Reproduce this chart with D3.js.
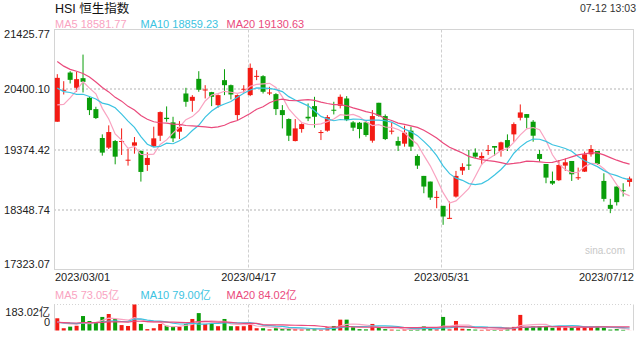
<!DOCTYPE html>
<html><head><meta charset="utf-8">
<script src="https://cdn.jsdelivr.net/npm/d3@7"></script>
<style>body{margin:0;background:#fff;} svg{display:block;font-family:"Liberation Sans",Arial,"Noto Sans CJK SC",sans-serif;}</style>
</head><body><svg id="c" width="640" height="360"></svg>
<script>
const dates = ["2023/03/01","2023/03/02","2023/03/03","2023/03/06","2023/03/07","2023/03/08","2023/03/09","2023/03/10","2023/03/13","2023/03/14","2023/03/15","2023/03/16","2023/03/17","2023/03/20","2023/03/21","2023/03/22","2023/03/23","2023/03/24","2023/03/27","2023/03/28","2023/03/29","2023/03/30","2023/03/31",
"2023/04/03","2023/04/04","2023/04/06","2023/04/11","2023/04/12","2023/04/13","2023/04/14","2023/04/17","2023/04/18","2023/04/19","2023/04/20","2023/04/21","2023/04/24","2023/04/25","2023/04/26","2023/04/27","2023/04/28",
"2023/05/02","2023/05/03","2023/05/04","2023/05/05","2023/05/08","2023/05/09","2023/05/10","2023/05/11","2023/05/12","2023/05/15","2023/05/16","2023/05/17","2023/05/18","2023/05/19","2023/05/22","2023/05/23","2023/05/24","2023/05/25","2023/05/29","2023/05/30","2023/05/31",
"2023/06/01","2023/06/02","2023/06/05","2023/06/06","2023/06/07","2023/06/08","2023/06/09","2023/06/12","2023/06/13","2023/06/14","2023/06/15","2023/06/16","2023/06/19","2023/06/20","2023/06/21","2023/06/23","2023/06/26","2023/06/27","2023/06/28","2023/06/29","2023/06/30",
"2023/07/03","2023/07/04","2023/07/05","2023/07/06","2023/07/07","2023/07/10","2023/07/11","2023/07/12"];
const opens  = [19849,20383,20690,20429,20594,20258,20065,19571,19406,19519,19513,19190,19440,19349,19110,19428,19610,19917,19838,19679,20332,20207,20582,
20383,20355,20133,20560,20474,19963,20395,20304,20622,20628,20338,20321,20048,19895,19519,19724,19934,
20116,19662,19696,20054,20122,20247,19838,19832,19838,19525,20173,19946,19679,19519,19474,19696,19264,18923,18826,18553,18411,
18195,18570,19014,19116,19321,19224,19355,19434,19349,19536,19633,19917,19980,19849,19298,19127,18837,18849,19099,19178,18888,
18996,19292,19349,18837,18428,18741,18678,18820];
const highs  = [20662,20542,20713,20702,20997,20275,20105,19633,19787,19537,19735,19383,19588,19360,19326,19764,20025,20111,19934,19860,20429,20304,20713,
20474,20360,20315,20747,20485,20315,20474,20844,20730,20645,20446,20338,20133,19906,19895,19820,20162,
20275,19707,19963,20190,20315,20287,19860,19845,19860,20048,20173,19974,19838,19593,19781,19764,19292,18923,18826,18667,18411,
18485,19008,19139,19366,19394,19326,19451,19434,19508,19633,19838,20145,19980,19877,19366,19127,18997,19195,19224,19178,19065,
19338,19451,19349,18968,18530,18741,18798,18911];
const lows   = [19849,20315,20503,20361,20349,19963,19895,19269,19383,19121,19281,19099,19303,18826,19008,19417,19519,19849,19502,19554,20105,20020,20361,
20247,20116,20088,20304,20230,19877,20349,20287,20560,20332,20304,19963,19735,19519,19513,19662,19860,
19747,19536,19679,19974,20077,19860,19690,19565,19593,19491,19934,19536,19633,19349,19423,19349,19042,18627,18513,18371,18087,
18190,18553,18940,19025,19224,19110,19281,19264,19252,19349,19508,19872,19735,19508,19167,18798,18769,18837,19008,18837,18854,
18990,19252,19110,18485,18286,18417,18570,18741];
const closes = [20599,20395,20565,20577,20531,20048,19912,19321,19673,19252,19520,19200,19497,18991,19230,19565,20014,19895,19565,19758,20190,20275,20395,
20400,20275,20304,20474,20315,20304,20412,20770,20633,20361,20349,20065,19963,19610,19735,19809,19906,
19934,19673,19929,20037,20275,19877,19747,19724,19622,19946,19951,19553,19696,19440,19662,19423,19099,18741,18553,18564,18229,
18206,18923,19076,19105,19252,19264,19366,19406,19497,19406,19809,20008,19917,19610,19213,18894,18792,19110,19156,18951,18900,
19292,19383,19127,18530,18360,18474,18667,18878];
// closes of the 19 sessions before the first date (needed for the moving averages)
const priorCloses = [21958,21660,21222,21298,21283,21624,21190,21164,21113,20812,20987,20719,20887,20529,20423,20351,20010,19943,19786];
// turnover, 亿
const volumes = [122,78,85,89,132,110,104,128,141,119,92,88,183.02,97,74,78,97,89,85,85,97,119,145,
97,97,87,119,87,87,87,100,78,78,73,78,75,76,74,73,75,
78,72,82,88,116,116,82,74,73,97,82,74,72,71,73,74,75,86,75,73,128,
73,110,76,74,72,71,73,72,74,80,84,137,82,86,88,85,80,86,82,82,83,
86,85.75,88,80,72,74,71,68.25];
const priorVolumes = [104,110,98,106,101,112,103,97,108,100,105,99,107,102,96,109,101,98,104];
const priceTicks = [17323.07,18348.74,19374.42,20400.10,21425.77];
const dateTicks = ["2023/03/01","2023/04/17","2023/05/31","2023/07/12"];
const volMax = 183.02, volFloor = 68;   // the volume panel is scaled from its lowest bar to its highest
const legendPrice = [["MA5 18581.77","#f9a3c1"],["MA10 18859.23","#3cc3e1"],["MA20 19130.63","#ea4a7c"]];
const legendVol = [["MA5 73.05亿","#f9a3c1"],["MA10 79.00亿","#3cc3e1"],["MA20 84.02亿","#ea4a7c"]];

const RED="#f31b14", GREEN="#0a9e0a";
const svg=d3.select("#c");
const L=54, R=633, T=29.5, B=269.5, VT=304.5, VB=330.5;
const x=d3.scaleLinear().domain([0,dates.length-1]).range([57.3,629.6]);
const y=d3.scaleLinear().domain([priceTicks[0],priceTicks[4]]).range([B,T]);
const yv=d3.scaleLinear().domain([volFloor,volMax]).range([VB,VT]);
const bw=5;

function ma(arr, prior, n){
  const all=prior.concat(arr);
  return arr.map((d,i)=>{const j=i+prior.length; return d3.mean(all.slice(j-n+1,j+1));});
}

// header
svg.append("text").attr("x",55).attr("y",13).attr("font-size",12.5).attr("fill","#111").text("HSI 恒生指数");
svg.append("text").attr("x",636).attr("y",12).attr("text-anchor","end").attr("font-size",10.5).attr("fill","#333").text("07-12 13:03");
const lx=[55,140.5,226.5];
legendPrice.forEach((d,i)=>svg.append("text").attr("x",lx[i]).attr("y",27.5).attr("font-size",11).attr("fill",d[1]).text(d[0]));

// main frame & grid
const g=svg.append("g");
priceTicks.slice(1,4).forEach(v=>g.append("line").attr("x1",L).attr("x2",R).attr("y1",Math.round(y(v))).attr("y2",Math.round(y(v))).attr("stroke","#d9d9d9").attr("stroke-width",2).attr("stroke-dasharray","2,2"));
const gridIdx=[30,60];
gridIdx.forEach(i=>{
  const gx=Math.round(x(i))-1.5;
  g.append("line").attr("x1",gx).attr("x2",gx).attr("y1",T).attr("y2",B).attr("stroke","#cfcfcf").attr("stroke-dasharray","3,2");
  g.append("line").attr("x1",gx).attr("x2",gx).attr("y1",VT).attr("y2",VB).attr("stroke","#cfcfcf").attr("stroke-dasharray","3,2");
});
g.append("rect").attr("x",L+0.5).attr("y",T).attr("width",R-L).attr("height",B-T).attr("fill","none").attr("stroke","#d4d4d4");
svg.append("text").attr("x",625).attr("y",254).attr("text-anchor","end").attr("font-size",10).attr("fill","#c8c8c8").text("sina.com");

// y labels
priceTicks.forEach((v,i)=>{
  let yy=y(v)+4;
  if(i===4) yy=T+8.5; if(i===0) yy=B-2;
  svg.append("text").attr("x",50).attr("y",yy).attr("text-anchor","end").attr("font-size",11).attr("fill","#222").text(v.toFixed(2));
});
// x labels
dateTicks.forEach((d,k)=>{
  const i=dates.indexOf(d);
  let anchor="middle", xx=x(i)-1.5;
  if(k===0){anchor="start";xx=55;}
  if(k===dateTicks.length-1){anchor="end";xx=634;}
  svg.append("text").attr("x",xx).attr("y",281).attr("text-anchor",anchor).attr("font-size",11).attr("fill","#222").text(d);
});

// candles
const cg=svg.append("g");
dates.forEach((d,i)=>{
  const up=closes[i]>=opens[i], col=up?RED:GREEN, cx=x(i);
  cg.append("line").attr("x1",cx).attr("x2",cx).attr("y1",y(highs[i])).attr("y2",y(lows[i])).attr("stroke",col).attr("stroke-width",1);
  const y0=y(Math.max(opens[i],closes[i])), y1=y(Math.min(opens[i],closes[i]));
  cg.append("rect").attr("x",cx-bw/2).attr("y",y0).attr("width",bw).attr("height",Math.max(1,y1-y0)).attr("fill",col);
});

// MA lines
const line=d3.line().x((d,i)=>x(i)).y(d=>y(d));
[[5,"#f9a3c1"],[10,"#3cc3e1"],[20,"#ea4a7c"]].forEach(([n,c])=>{
  svg.append("path").attr("d",line(ma(closes,priorCloses,n))).attr("fill","none").attr("stroke",c).attr("stroke-width",1.2);
});

// volume panel
legendVol.forEach((d,i)=>svg.append("text").attr("x",lx[i]).attr("y",299).attr("font-size",11).attr("fill",d[1]).text(d[0]));
svg.append("line").attr("x1",L).attr("x2",R).attr("y1",VT).attr("y2",VT).attr("stroke","#d4d4d4").attr("stroke-dasharray","1,2");
svg.append("line").attr("x1",L+0.5).attr("x2",L+0.5).attr("y1",VT).attr("y2",VB).attr("stroke","#d4d4d4");
svg.append("line").attr("x1",R+0.5).attr("x2",R+0.5).attr("y1",VT).attr("y2",VB).attr("stroke","#d4d4d4");
svg.append("text").attr("x",50).attr("y",315.5).attr("text-anchor","end").attr("font-size",11).attr("fill","#222").text(volMax.toFixed(2)+"亿");
svg.append("text").attr("x",50).attr("y",326).attr("text-anchor","end").attr("font-size",11).attr("fill","#222").text("0");
const vg=svg.append("g");
dates.forEach((d,i)=>{
  const col=closes[i]>=opens[i]?RED:GREEN;
  vg.append("rect").attr("x",x(i)-2).attr("y",yv(volumes[i])).attr("width",4).attr("height",VB-yv(volumes[i])).attr("fill",col);
});
const vline=d3.line().x((d,i)=>x(i)).y(d=>yv(d));
[[5,"#f9a3c1"],[10,"#3cc3e1"],[20,"#ea4a7c"]].forEach(([n,c])=>{
  svg.append("path").attr("d",vline(ma(volumes,priorVolumes,n))).attr("fill","none").attr("stroke",c).attr("stroke-width",1.2);
});
</script></body></html>
